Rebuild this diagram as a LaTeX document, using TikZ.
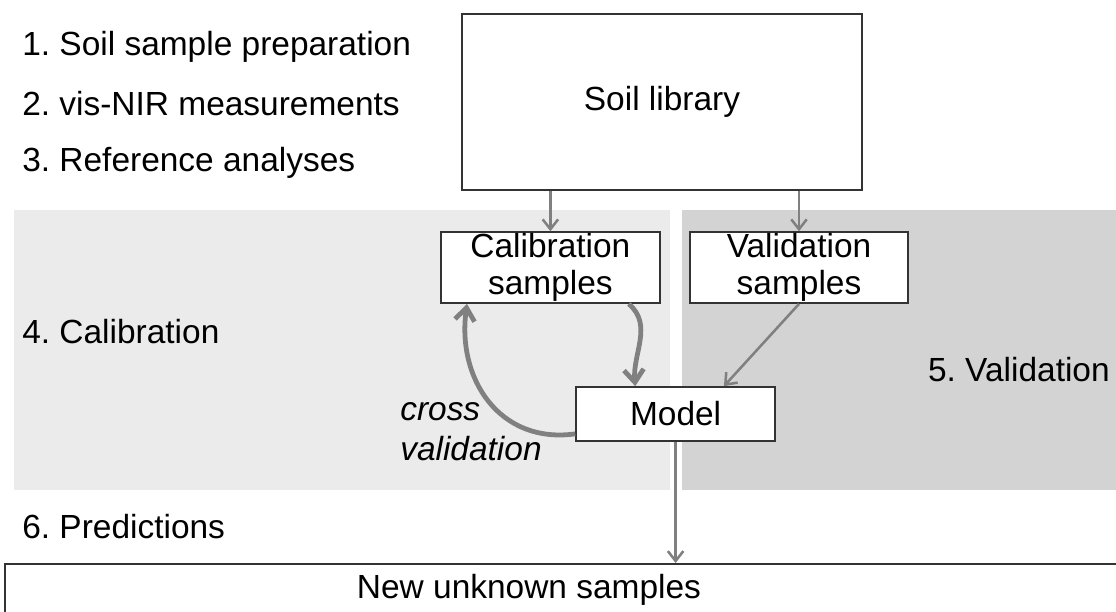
\documentclass[tikz,border=0pt]{standalone}
\usepackage{fontspec}
\setmainfont{Liberation Sans}
\usetikzlibrary{arrows.meta}
\definecolor{arrowgray}{HTML}{808080}
\definecolor{panellight}{HTML}{EBEBEB}
\definecolor{paneldark}{HTML}{D3D3D3}
\definecolor{boxline}{HTML}{333333}
\frenchspacing
\begin{document}
\begin{tikzpicture}[
            font=\fontsize{23.8}{26}\selectfont,
            box/.style={rectangle, draw=boxline, line width=1.2pt, fill=white, text centered, align=center, inner sep=0pt},
            label/.style={anchor=west, inner sep=0pt},
            panel/.style={draw=none, inner sep=0pt, anchor=north west},
            arrow/.style={draw=arrowgray, line width=1.8pt, -{Straight Barb[length=7pt,width=11pt]}},
            thickarrow/.style={draw=arrowgray, line width=3.4pt, -{Straight Barb[length=9pt,width=14pt]}}
        ]
            \useasboundingbox (0,0) rectangle (27.9,-15.3);
            \fill[white] (0,0) rectangle (27.9,-15.3);

            \node[panel, fill=panellight, minimum width=16.4cm, minimum height=7cm] (calpanel) at (0.35,-5.25) {};
            \node[panel, fill=paneldark, minimum width=11cm, minimum height=7cm] (valpanel) at (17.05,-5.25) {};

            \node[box, minimum width=10cm, minimum height=4.4cm] (library) at (16.55,-2.55) {Soil library};
            \node[box, minimum width=5.475cm, minimum height=1.775cm] (cal) at (13.76,-6.69) {Calibration\\samples};
            \node[box, minimum width=5.45cm, minimum height=1.775cm] (val) at (19.975,-6.69) {Validation\\samples};
            \node[box, minimum width=4.975cm, minimum height=1.35cm] (model) at (16.89,-10.35) {Model};
            \node[box, anchor=north west, minimum width=29cm, minimum height=2cm] (newbox) at (0.1,-14.075) {};
            \node (newtext) at (13.225,-14.75) {New unknown samples};

            \node[label] (step1) at (0.55,-1.175) {1. Soil sample preparation};
            \node[label] (step2) at (0.55,-2.6) {2. vis-NIR measurements};
            \node[label] (step3) at (0.55,-4.075) {3. Reference analyses};
            \node[label] (step4) at (0.55,-8.3) {4. Calibration};
            \node[label, anchor=east] (step5) at (27.75,-9.25) {5. Validation};
            \node[label] (step6) at (0.55,-13.17) {6. Predictions};
            \node[label, align=left, font=\fontsize{23.8}{28.5}\selectfont\itshape] (crossval) at (10.0,-10.8) {cross\\validation};

            \draw[arrow] (library.south -| cal.north) -- (cal.north);
            \draw[arrow] (library.south -| val.north) -- (val.north);
            \draw[thickarrow] ([xshift=-0.8cm]cal.south east) to[out=-40,in=95] ([xshift=1.5cm]model.north west);
            \draw[arrow] (val.south) -- ([xshift=-1.3cm]model.north east);
            \draw[thickarrow] ([yshift=0.2cm]model.south west) to[out=188,in=-98,looseness=1.15] ([xshift=0.675cm]cal.south west);
            \draw[arrow] (model.south) -- (model.south |- newbox.north);
        \end{tikzpicture}
\end{document}
